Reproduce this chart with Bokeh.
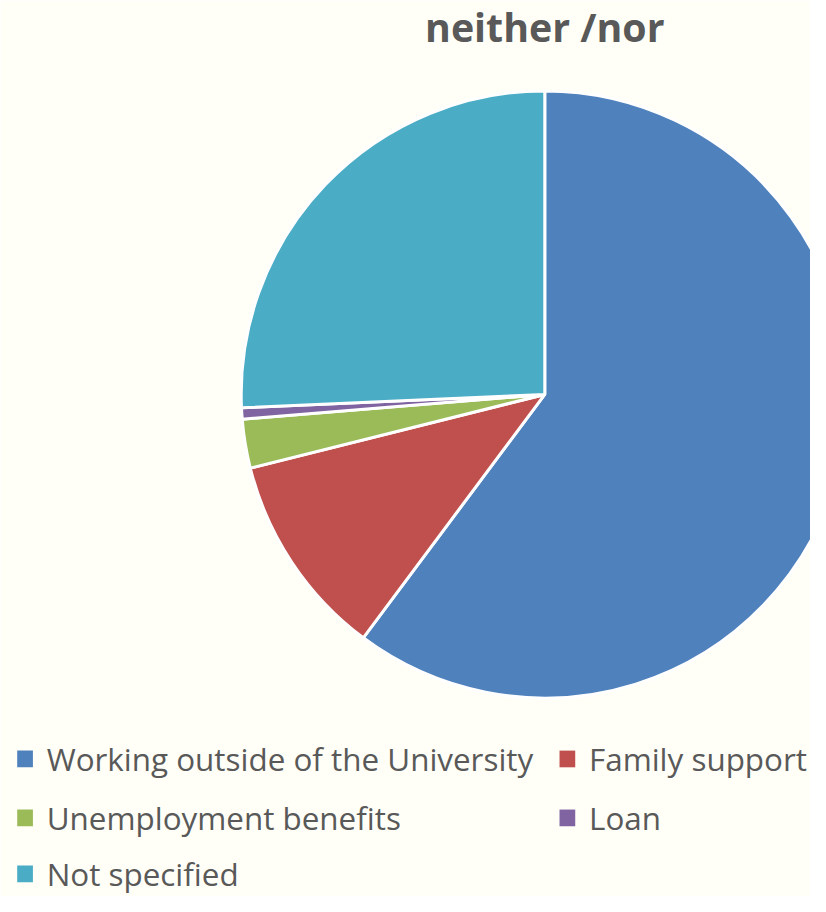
import numpy as np
from bokeh.plotting import figure
from bokeh.models import Range1d, ColumnDataSource
from bokeh.core.properties import value
from bokeh.embed import file_html
from bokeh.resources import INLINE

categories = ["Working outside of the University", "Family support",
              "Unemployment benefits", "Loan", "Not specified"]
values = [60.2, 10.9, 2.6, 0.6, 25.7]
colors = ["#4F81BD", "#C0504D", "#9BBB59", "#8064A2", "#4BACC6"]
title_text = "neither /nor"

BG = "#FFFFF7"
TXT = "#595959"
FW, FH = 810, 896          # figure size in screen pixels
REF_H = 912.0              # reference layout units
s = FH / REF_H             # screen px per layout unit

p = figure(width=FW, height=FH, output_backend="svg", toolbar_location=None,
           x_range=Range1d(0, FW / s), y_range=Range1d(0, FH / s),
           min_border=0)
p.axis.visible = False
p.grid.visible = False
p.outline_line_color = None
p.background_fill_color = BG
p.border_fill_color = BG

def Y(v):
    return FH / s - v

vals = np.array(values, dtype=float)
frac = vals / vals.sum()
cum = np.concatenate([[0.0], np.cumsum(frac)])
start = np.pi / 2 - 2 * np.pi * cum[1:]
end = np.pi / 2 - 2 * np.pi * cum[:-1]
src = ColumnDataSource(dict(start=start, end=end, color=colors, name=categories))

p.wedge(x=554, y=Y(401), radius=309, start_angle="start", end_angle="end",
        direction="anticlock", fill_color="color", line_color="white",
        line_width=3, source=src)

# title
p.text(x=[554], y=[Y(27)], text=[title_text], text_align="center",
       text_baseline="middle", text_font=value("Open Sans"),
       text_font_style="bold", text_font_size=f"{40 * s:.1f}px", text_color=TXT)

# legend
sq_x = [25, 577, 25, 577, 25]
row_y = [772, 772, 832, 832, 889]
p.rect(x=sq_x, y=[Y(b) for b in row_y], width=16, height=17,
       fill_color=colors, line_color=None)
p.text(x=[v + 22 for v in sq_x], y=[Y(b) for b in row_y], text=categories,
       text_align="left", text_baseline="middle",
       text_font=value("Open Sans"), text_font_size=f"{32 * s:.1f}px",
       text_color=TXT)

open("out.html", "w").write(file_html(p, INLINE))
